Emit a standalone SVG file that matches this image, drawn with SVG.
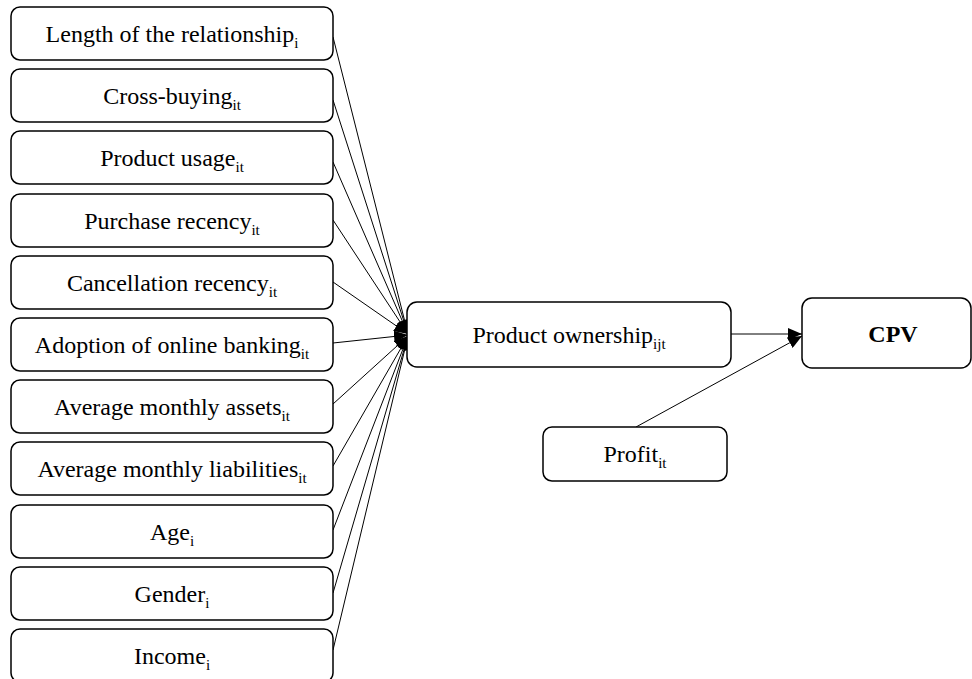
<svg xmlns="http://www.w3.org/2000/svg" width="972" height="679" viewBox="0 0 972 679">
<style>
.box{fill:#fff;stroke:#000;stroke-width:1.5}
.t{font-family:"Liberation Serif","Times New Roman",serif;font-size:24px;fill:#000;text-anchor:middle}
.s{font-size:15px}
.b{font-weight:bold}
.c{stroke:#000;stroke-width:1;fill:none;marker-end:url(#ah)}
</style>
<defs>
<marker id="ah" viewBox="0 0 14 12" refX="14" refY="6" markerWidth="14" markerHeight="12" markerUnits="userSpaceOnUse" orient="auto">
<path d="M0,0 L14,6 L0,12 z" fill="#000"/>
</marker>
</defs>
<rect width="972" height="679" fill="#fff"/>
<g id="connectors">
<line class="c" x1="333" y1="37" x2="408" y2="334"/>
<line class="c" x1="333" y1="100" x2="408" y2="334"/>
<line class="c" x1="333" y1="162" x2="408" y2="334"/>
<line class="c" x1="333" y1="220" x2="408" y2="334"/>
<line class="c" x1="333" y1="282" x2="408" y2="334"/>
<line class="c" x1="333" y1="343" x2="408" y2="335"/>
<line class="c" x1="333" y1="404" x2="408" y2="336"/>
<line class="c" x1="333" y1="466" x2="408" y2="336"/>
<line class="c" x1="333" y1="530" x2="408" y2="336"/>
<line class="c" x1="333" y1="593" x2="408" y2="336"/>
<line class="c" x1="333" y1="650" x2="408" y2="336"/>
<line class="c" x1="731" y1="334" x2="802" y2="334"/>
<line class="c" x1="636" y1="427" x2="802" y2="336"/>
</g>
<g id="n1"><rect class="box" x="11" y="7" width="322" height="53" rx="9"/><text class="t" x="172" y="42">Length of the relationship<tspan class="s" dy="6">i</tspan></text></g>
<g id="n2"><rect class="box" x="11" y="69" width="322" height="53" rx="9"/><text class="t" x="172" y="104">Cross-buying<tspan class="s" dy="6">it</tspan></text></g>
<g id="n3"><rect class="box" x="11" y="131" width="322" height="53" rx="9"/><text class="t" x="172" y="166">Product usage<tspan class="s" dy="6">it</tspan></text></g>
<g id="n4"><rect class="box" x="11" y="194" width="322" height="53" rx="9"/><text class="t" x="172" y="229">Purchase recency<tspan class="s" dy="6">it</tspan></text></g>
<g id="n5"><rect class="box" x="11" y="256" width="322" height="53" rx="9"/><text class="t" x="172" y="291">Cancellation recency<tspan class="s" dy="6">it</tspan></text></g>
<g id="n6"><rect class="box" x="11" y="318" width="322" height="53" rx="9"/><text class="t" x="172" y="353">Adoption of online banking<tspan class="s" dy="6">it</tspan></text></g>
<g id="n7"><rect class="box" x="11" y="380" width="322" height="53" rx="9"/><text class="t" x="172" y="415">Average monthly assets<tspan class="s" dy="6">it</tspan></text></g>
<g id="n8"><rect class="box" x="11" y="442" width="322" height="53" rx="9"/><text class="t" x="172" y="477">Average monthly liabilities<tspan class="s" dy="6">it</tspan></text></g>
<g id="n9"><rect class="box" x="11" y="505" width="322" height="53" rx="9"/><text class="t" x="172" y="540">Age<tspan class="s" dy="6">i</tspan></text></g>
<g id="n10"><rect class="box" x="11" y="567" width="322" height="53" rx="9"/><text class="t" x="172" y="602">Gender<tspan class="s" dy="6">i</tspan></text></g>
<g id="n11"><rect class="box" x="11" y="629" width="322" height="53" rx="9"/><text class="t" x="172" y="664">Income<tspan class="s" dy="6">i</tspan></text></g>
<g id="po"><rect class="box" x="407" y="302" width="324" height="65" rx="10"/><text class="t" x="569" y="343">Product ownership<tspan class="s" dy="6">ijt</tspan></text></g>
<g id="profit"><rect class="box" x="543" y="427" width="184" height="54" rx="9"/><text class="t" x="635" y="462">Profit<tspan class="s" dy="6">it</tspan></text></g>
<g id="cpv"><rect class="box" x="802" y="298" width="169" height="70" rx="10"/><text class="t b" x="893" y="342">CPV</text></g>
</svg>
